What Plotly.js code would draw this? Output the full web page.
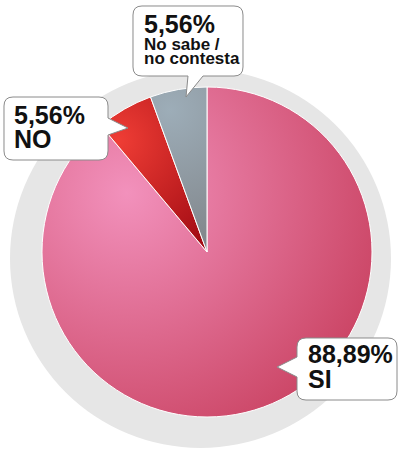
<!DOCTYPE html>
<html>
<head>
<meta charset="utf-8">
<script src="https://cdn.plot.ly/plotly-3.0.1.min.js"></script>
<style>html,body{margin:0;padding:0;background:#fff;}#chart{width:398px;height:449px;}</style>
</head>
<body>
<div id="chart"></div>
<script>
// ---- data ----
const categories = ['SI', 'NO', 'No sabe / no contesta'];
const values = [88.89, 5.56, 5.56];
const pctLabels = ['88,89%', '5,56%', '5,56%'];
const nameLines = [['SI'], ['NO'], ['No sabe /', 'no contesta']];
const sliceColors = ['#d9647f', '#d42c2c', '#8c99a2'];

// ---- layout helpers ----
const W = 398, H = 449;
const px = x => x / W;
const py = y => 1 - y / H;
const P = (x, y) => px(x).toFixed(5) + ',' + py(y).toFixed(5);

function bubble(x0, y0, x1, y1, r, t) {
  let d = 'M' + P(x0 + r, y0) + ' L' + P(x1 - r, y0) + ' Q' + P(x1, y0) + ' ' + P(x1, y0 + r);
  if (t.side === 'right') d += ' L' + P(x1, t.a) + ' L' + P(t.tx, t.ty) + ' L' + P(x1, t.b);
  d += ' L' + P(x1, y1 - r) + ' Q' + P(x1, y1) + ' ' + P(x1 - r, y1);
  if (t.side === 'bottom') d += ' L' + P(t.b, y1) + ' L' + P(t.tx, t.ty) + ' L' + P(t.a, y1);
  d += ' L' + P(x0 + r, y1) + ' Q' + P(x0, y1) + ' ' + P(x0, y1 - r);
  if (t.side === 'left') d += ' L' + P(x0, t.b) + ' L' + P(t.tx, t.ty) + ' L' + P(x0, t.a);
  d += ' L' + P(x0, y0 + r) + ' Q' + P(x0, y0) + ' ' + P(x0 + r, y0) + ' Z';
  return d;
}

// box geometry (pixels) per category index
const boxes = [
  {x0: 297, y0: 338, x1: 397, y1: 400, t: {side: 'left', a: 357, b: 377, tx: 277, ty: 367}, tx: 306, lines: [354.3, 379.3]},
  {x0: 4, y0: 97, x1: 108, y1: 160, t: {side: 'right', a: 118, b: 135, tx: 128, ty: 128}, tx: 12, lines: [115.3, 139.3]},
  {x0: 133, y0: 6, x1: 243, y1: 76, t: {side: 'bottom', a: 188, b: 203, tx: 186, ty: 97}, tx: 142, lines: [24.3, 44, 58]}
];

const shapes = [{
  type: 'circle', xref: 'paper', yref: 'paper', layer: 'below',
  x0: px(10), x1: px(391), y0: py(448), y1: py(69),
  fillcolor: '#e6e6e6', line: {width: 0}
}];
const annotations = [];
boxes.forEach((b, i) => {
  shapes.push({
    type: 'path', xref: 'paper', yref: 'paper', layer: 'above',
    path: bubble(b.x0, b.y0, b.x1, b.y1, 9, b.t),
    fillcolor: '#ffffff', line: {color: '#8a8a8a', width: 1}
  });
  const texts = [pctLabels[i]].concat(nameLines[i]);
  const sizes = i === 2 ? [25, 17, 17] : [25, 25];
  texts.forEach((tx, k) => {
    annotations.push({
      xref: 'paper', yref: 'paper', x: px(b.tx), y: py(b.lines[k]),
      xanchor: 'left', yanchor: 'middle', showarrow: false,
      text: '<b>' + tx + '</b>',
      font: {family: 'Liberation Sans, Arial, sans-serif', size: sizes[k], color: '#111111'}
    });
  });
});

const trace = {
  type: 'pie',
  labels: categories,
  values: values,
  sort: false,
  direction: 'clockwise',
  rotation: 0,
  textinfo: 'none',
  hoverinfo: 'label+percent',
  marker: {colors: sliceColors, line: {color: '#ffffff', width: 1}},
  domain: {x: [px(42), px(372)], y: [py(417), py(87)]},
  showlegend: false
};

const layout = {
  width: W, height: H,
  margin: {l: 0, r: 0, t: 0, b: 0},
  paper_bgcolor: '#ffffff',
  showlegend: false,
  shapes: shapes,
  annotations: annotations
};

Plotly.newPlot('chart', [trace], layout, {staticPlot: true, displayModeBar: false}).then(gd => {
  // radial shading similar to the reference
  const svg = gd.querySelector('svg.main-svg');
  const NS = 'http://www.w3.org/2000/svg';
  let defs = svg.querySelector('defs');
  if (!defs) { defs = document.createElementNS(NS, 'defs'); svg.insertBefore(defs, svg.firstChild); }
  const grads = [
    {id: 'gSI', cx: 127, cy: 193, r: 290, stops: ['#f291bc', '#c83f5e']},
    {id: 'gNO', cx: 118, cy: 140, r: 130, stops: ['#ef3d35', '#a30c14']},
    {id: 'gNS', cx: 170, cy: 110, r: 160, stops: ['#9dadb8', '#7d8084']}
  ];
  grads.forEach(g => {
    const rg = document.createElementNS(NS, 'radialGradient');
    rg.setAttribute('id', g.id);
    rg.setAttribute('gradientUnits', 'userSpaceOnUse');
    rg.setAttribute('cx', g.cx); rg.setAttribute('cy', g.cy); rg.setAttribute('r', g.r);
    g.stops.forEach((c, k) => {
      const s = document.createElementNS(NS, 'stop');
      s.setAttribute('offset', k === 0 ? '0' : '1');
      s.setAttribute('stop-color', c);
      rg.appendChild(s);
    });
    defs.appendChild(rg);
  });
  const paths = gd.querySelectorAll('g.slice path.surface');
  paths.forEach((p, i) => { p.style.fill = 'url(#' + grads[i].id + ')'; });
  if (paths.length) {
    const ctm = paths[0].getCTM();
    grads.forEach(g => {
      const el = svg.querySelector('#' + g.id);
      el.setAttribute('cx', g.cx - ctm.e);
      el.setAttribute('cy', g.cy - ctm.f);
    });
  }
});
</script>
</body>
</html>
